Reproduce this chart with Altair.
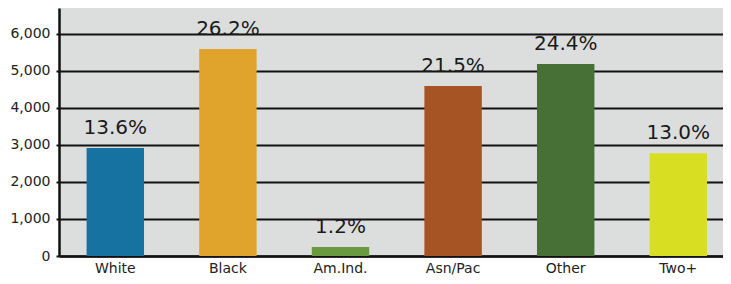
import altair as alt
import pandas as pd

categories = ["White", "Black", "Am.Ind.", "Asn/Pac", "Other", "Two+"]
values = [2920, 5590, 243, 4595, 5190, 2775]
pct_labels = ["13.6%", "26.2%", "1.2%", "21.5%", "24.4%", "13.0%"]
colors = ["#1572a1", "#e0a42c", "#699a40", "#a65424", "#467035", "#d8df22"]
y_ticks = [0, 1000, 2000, 3000, 4000, 5000, 6000]

df = pd.DataFrame({"cat": categories, "val": values, "pct": pct_labels})

FONT = "DejaVu Sans"

x = alt.X(
    "cat:N",
    sort=categories,
    title=None,
    scale=alt.Scale(paddingInner=0.49, paddingOuter=0.245, range=[0, 675.6]),
    axis=alt.Axis(
        labelAngle=0,
        ticks=False,
        domain=True,
        domainColor="#111111",
        domainWidth=2.5,
        labelFont=FONT,
        labelFontSize=14,
        labelColor="#222222",
        labelPadding=5,
        grid=False,
    ),
)
y = alt.Y(
    "val:Q",
    title=None,
    scale=alt.Scale(domain=[0, 6700], nice=False),
    axis=alt.Axis(
        values=y_ticks,
        format=",d",
        domain=True,
        domainColor="#111111",
        domainWidth=2.5,
        grid=True,
        gridColor="#111111",
        gridWidth=2,
        gridOpacity=1,
        ticks=True,
        tickSize=3,
        tickColor="#111111",
        tickWidth=2,
        labelFont=FONT,
        labelFontSize=14,
        labelColor="#222222",
        labelPadding=6,
    ),
)

bars = alt.Chart(df).mark_bar().encode(
    x=x,
    y=y,
    color=alt.Color("cat:N", scale=alt.Scale(domain=categories, range=colors), legend=None),
)

text = alt.Chart(df).mark_text(
    font=FONT, fontSize=20, color="#1a1a1a", baseline="alphabetic", dy=-14
).encode(
    x=alt.X("cat:N", sort=categories),
    y=alt.Y("val:Q"),
    text="pct:N",
)

chart = (
    alt.layer(bars, text)
    .properties(
        width=664,
        height=248,
        autosize=alt.AutoSizeParams(type="none"),
        padding={"left": 51, "top": 0, "right": 0, "bottom": 20},
    )
    .configure_view(fill="#dcdedd", stroke=None)
)

chart.save("out.html", embed_options={"renderer": "svg", "actions": False})
